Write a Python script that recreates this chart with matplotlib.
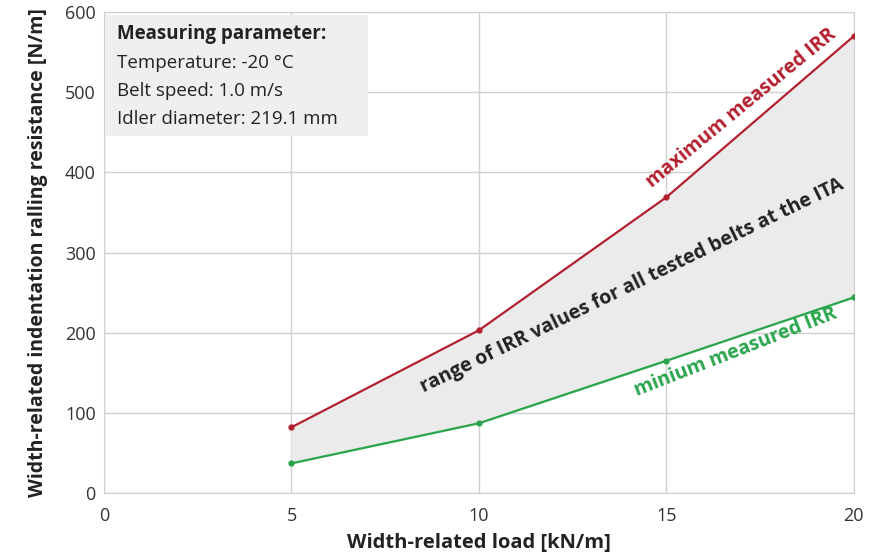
import numpy as np
import matplotlib.pyplot as plt
from matplotlib.patches import Rectangle

plt.rcParams['font.family'] = ['Open Sans', 'DejaVu Sans']

load = [5, 10, 15, 20]
irr_max = [82, 203, 369, 570]
irr_min = [37, 87, 165, 244]

params_title = "Measuring parameter:"
params_lines = ["Temperature: -20 °C", "Belt speed: 1.0 m/s", "Idler diameter: 219.1 mm"]

red = "#b3202f"
green = "#2aa54c"

fig = plt.figure(figsize=(8.77, 5.56), dpi=100)
ax = fig.add_axes([0.1186, 0.1133, 0.855, 0.865])

ax.fill_between(load, irr_min, irr_max, color="#ebebeb", zorder=1)
ax.plot(load, irr_max, color=red, lw=1.6, marker='o', ms=3.5, zorder=3)
ax.plot(load, irr_min, color=green, lw=1.6, marker='o', ms=3.5, zorder=3)

ax.set_xlim(0, 20)
ax.set_ylim(0, 600)
ax.set_xticks([0, 5, 10, 15, 20])
ax.set_yticks([0, 100, 200, 300, 400, 500, 600])
ax.grid(True, color="#cfcfcf", lw=1)
ax.set_axisbelow(True)
for s in ax.spines.values():
    s.set_color("#cfcfcf")
ax.tick_params(length=0, labelsize=13, colors="#333333")
ax.tick_params(axis='x', pad=10)
ax.tick_params(axis='y', pad=6)
ax.set_xlabel("Width-related load [kN/m]", fontsize=14.5, fontweight='bold', color="#222222", labelpad=6)
ax.set_ylabel("Width-related indentation ralling resistance [N/m]", fontsize=14,
              fontweight='bold', color="#222222", labelpad=12)

# parameter box
ax.add_patch(Rectangle((0.03, 445), 7.0, 151, fc="#efefef", ec='none', zorder=4))
ax.text(0.35, 573, params_title, fontsize=13.5, fontweight='bold', va='center', ha='left',
        color="#222222", zorder=5)
for yv, line in zip([536, 501, 467], params_lines):
    ax.text(0.35, yv, line, fontsize=13.5, va='center', ha='left', color="#222222", zorder=5)

ax.text(17.0, 480, "maximum measured IRR", color=red, fontsize=14, fontweight='bold',
        rotation=39.4, rotation_mode='anchor', ha='center', va='center', zorder=4)
ax.text(14.08, 259, "range of IRR values for all tested belts at the ITA", color="#222222",
        fontsize=14, fontweight='bold', rotation=25.9, rotation_mode='anchor',
        ha='center', va='center', zorder=4)
ax.text(16.85, 176, "minium measured IRR", color=green, fontsize=14, fontweight='bold',
        rotation=21.3, rotation_mode='anchor', ha='center', va='center', zorder=4)

fig.savefig("out.png", dpi=100)
